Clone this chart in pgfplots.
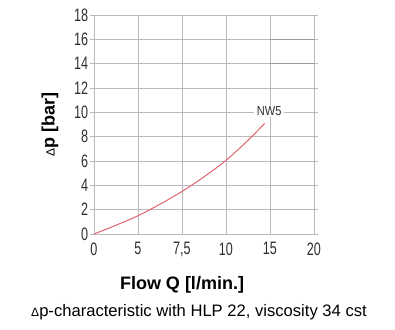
\documentclass[border=0pt]{standalone}
\usepackage{pgfplots}
\pgfplotsset{compat=1.18}
\usepackage{fontspec}
\setmainfont{Liberation Sans}
\definecolor{gridc}{HTML}{BABABA}
\definecolor{darkgrid}{HTML}{9A9A9A}
\definecolor{curve}{HTML}{E0646F}
\definecolor{txt}{HTML}{2E2E2E}
\begin{document}
\begin{tikzpicture}
\useasboundingbox (-94pt,-95pt) rectangle (301pt,234pt);
\begin{axis}[
  at={(0pt,0pt)}, anchor=south west,
  scale only axis, width=220pt, height=219pt,
  xmin=0, xmax=5, ymin=0, ymax=18,
  xtick={0,1,2,3,4,5},
  xticklabels={0,5,{7,5},10,15,20},
  ytick={0,2,...,18},
  grid=major,
  major grid style={gridc, line width=0.9pt},
  axis line style={gridc, line width=0.9pt},
  tick style={gridc, line width=0.9pt},
  tick align=outside, major tick length=4pt,
  xtick style={draw=none},
  ticklabel style={font=\fontsize{18}{18}\selectfont, text=txt, xscale=0.7},
  yticklabel style={xshift=1pt},
  xticklabel style={yshift=-1pt},
  /pgf/number format/assume math mode=true,
  xlabel={\bfseries Flow Q [l/min.]},
  ylabel={{\mdseries\fontsize{12}{12}\selectfont Δ}\bfseries p [bar]},
  label style={font=\fontsize{18}{18}\selectfont, text=black},
  xlabel style={at={(axis description cs:0.4,0)}, anchor=center, yshift=-51pt},
  ylabel style={at={(axis description cs:0,0.5)}, anchor=center, yshift=44pt},
  clip=false,
]
\draw[darkgrid, line width=0.9pt] (axis cs:4,16) -- (axis cs:5,16);
\draw[darkgrid, line width=0.9pt] (axis cs:4,14) -- (axis cs:5,14);
\addplot[curve, line width=1pt, smooth] coordinates {
  (0,0) (0.5,0.72) (1,1.5) (1.5,2.45) (2,3.5) (2.5,4.7) (3,6.05) (3.5,7.7) (3.88,9.1)
};
\node[fill=white, inner xsep=3pt, inner ysep=1pt, text=txt, font=\fontsize{13}{13}\selectfont, xscale=0.85]
  at (axis cs:3.98,10.1) {NW5};
\end{axis}
\node[font=\fontsize{16.6}{17}\selectfont, text=black] at (105pt,-78pt)
  {{\fontsize{12}{12}\selectfont Δ}p-characteristic with HLP 22, viscosity 34 cst};
\end{tikzpicture}
\end{document}
